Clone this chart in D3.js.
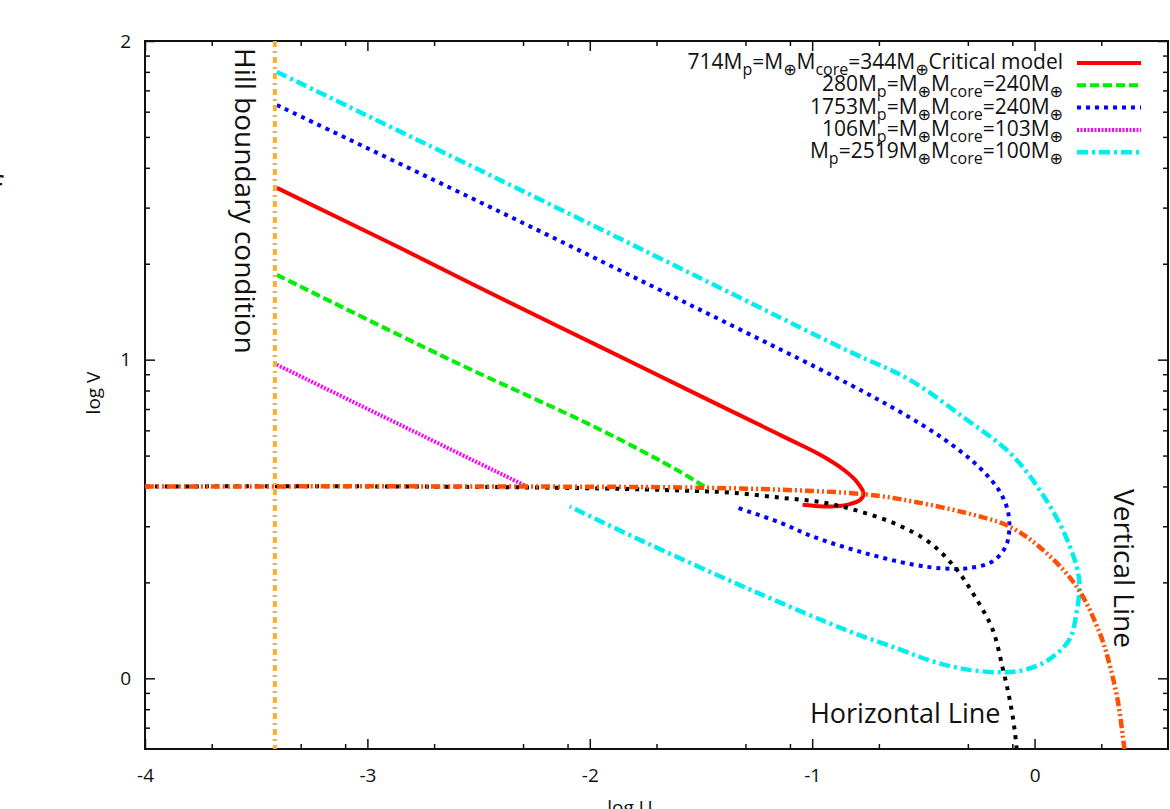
<!DOCTYPE html>
<html>
<head>
<meta charset="utf-8">
<script src="https://cdn.jsdelivr.net/npm/d3@7"></script>
<style>
  body { margin: 0; background: #fff; }
  svg { display: block; font-family: "Open Sans", "DejaVu Sans", sans-serif; }
</style>
</head>
<body>
<svg id="chart" width="1170" height="809"></svg>
<script>
// tick values (log U, log V)
var xMajor = [-4, -3, -2, -1, 0];
var xMinorOffsets = [0.3, 0.7, 0.9];
var yMajor = [0, 1, 2];
var yMinorFactors = [2, 3, 4, 5, 6, 7, 8, 9];

// Hill boundary position (log U)
var hillU = -3.416;

// curves, [log U, log V]
var critical = [[-3.407,1.539],[-2.854,1.351],[-2.404,1.194],[-1.955,1.041],[-1.506,0.887],[-1.101,0.749],
  [-0.966,0.702],[-0.854,0.652],[-0.796,0.614],[-0.769,0.580],[-0.782,0.561],[-0.840,0.545],[-0.921,0.539],[-1.043,0.545]];
var m280 = [[-3.407,1.266],[-2.629,1.0],[-1.955,0.781],[-1.596,0.649],[-1.479,0.599]];
var m1753 = [[-3.407,1.799],[-2.404,1.464],[-1.506,1.157],[-0.831,0.922],[-0.607,0.837],[-0.404,0.749],[-0.247,0.661],
  [-0.157,0.586],[-0.117,0.514],[-0.126,0.420],[-0.189,0.367],[-0.306,0.345],[-0.413,0.345],[-0.548,0.357],
  [-0.773,0.395],[-0.998,0.445],[-1.146,0.489],[-1.339,0.536]];
var m106 = [[-3.407,0.984],[-2.854,0.796],[-2.283,0.602]];
var m2519 = [[-3.407,1.903],[-2.404,1.564],[-1.506,1.257],[-0.831,1.025],[-0.562,0.937],[-0.306,0.812],[-0.112,0.708],
  [0.022,0.592],[0.126,0.467],[0.189,0.351],[0.202,0.288],[0.189,0.207],[0.157,0.122],[0.067,0.060],[-0.036,0.028],
  [-0.144,0.019],[-0.306,0.028],[-0.458,0.053],[-0.607,0.091],[-0.831,0.147],[-1.281,0.279],[-1.730,0.420],[-2.090,0.539]];
var horizontalLine = [[-4,0.602],[-2.854,0.602],[-1.955,0.596],[-1.582,0.589],[-1.371,0.583],[-1.146,0.567],[-0.953,0.552],
  [-0.787,0.524],[-0.620,0.483],[-0.472,0.426],[-0.351,0.342],[-0.261,0.248],[-0.189,0.154],[-0.144,0.034],
  [-0.112,-0.066],[-0.090,-0.160],[-0.076,-0.254]];
var verticalLine = [[-4,0.602],[-2.404,0.602],[-1.596,0.599],[-1.146,0.592],[-0.755,0.577],[-0.548,0.555],[-0.247,0.508],
  [-0.112,0.476],[0.036,0.404],[0.189,0.288],[0.292,0.144],[0.337,0.044],[0.373,-0.066],[0.396,-0.176],[0.409,-0.254]];

// legend labels: [text, subscript?]
var legendLabels = [
  [["714M",0],["p",1],["=M",0],["\u2295",1],["M",0],["core",1],["=344M",0],["\u2295",1],["Critical model",0]],
  [["280M",0],["p",1],["=M",0],["\u2295",1],["M",0],["core",1],["=240M",0],["\u2295",1]],
  [["1753M",0],["p",1],["=M",0],["\u2295",1],["M",0],["core",1],["=240M",0],["\u2295",1]],
  [["106M",0],["p",1],["=M",0],["\u2295",1],["M",0],["core",1],["=103M",0],["\u2295",1]],
  [["M",0],["p",1],["=2519M",0],["\u2295",1],["M",0],["core",1],["=100M",0],["\u2295",1]]
];

var models = [
  {data: critical, color: "#ff0000", dash: null, w: 4},
  {data: m280, color: "#00ee00", dash: "9,4", w: 4},
  {data: m1753, color: "#0000ff", dash: "4,5", w: 4},
  {data: m106, color: "#ff00ff", dash: "2,1.5", w: 4},
  {data: m2519, color: "#00eeee", dash: "11,4,3,4", w: 4.5}
];

var margin = {top: 41, right: 2, bottom: 60, left: 145},
    width = 1168 - margin.left,
    height = 749 - margin.top;

var svg = d3.select("#chart");
var g = svg.append("g")
  .attr("transform", "translate(" + margin.left + "," + margin.top + ")");

var x = d3.scaleLinear().domain([-4, 0.6]).range([0, width]);
var y = d3.scaleLinear().domain([Math.log10(0.6), 2]).range([height, 0]);

g.append("clipPath").attr("id", "plotclip")
  .append("rect").attr("width", width).attr("height", height);

// minor tick positions
var xMinor = [];
xMajor.forEach(function(n) {
  xMinorOffsets.forEach(function(o) { if (n + o < 0.6) xMinor.push(n + o); });
});
var yMinor = [];
[-1, 0, 1].forEach(function(n) {
  yMinorFactors.forEach(function(k) {
    var v = n + Math.log10(k);
    if (v > y.domain()[0] + 0.005 && v < 2) yMinor.push(v);
  });
});

var plainFmt = function(d) { return String(d); };

function styleAxis(sel) {
  sel.attr("font-family", null);
  sel.select(".domain").remove();
  sel.selectAll("line").attr("stroke", "#111").attr("stroke-width", 1.5);
  sel.selectAll("text").attr("fill", "#111").style("font-size", "19px");
}

// bottom / top
g.append("g").attr("transform", "translate(0," + height + ")")
  .call(d3.axisBottom(x).tickValues(xMajor).tickSize(-10).tickPadding(20).tickFormat(plainFmt))
  .call(styleAxis);
g.append("g").attr("transform", "translate(0," + height + ")")
  .call(d3.axisBottom(x).tickValues(xMinor).tickSize(-5).tickFormat(""))
  .call(styleAxis);
g.append("g")
  .call(d3.axisTop(x).tickValues(xMajor).tickSize(-10).tickFormat(""))
  .call(styleAxis);
g.append("g")
  .call(d3.axisTop(x).tickValues(xMinor).tickSize(-5).tickFormat(""))
  .call(styleAxis);
// left / right
g.append("g")
  .call(d3.axisLeft(y).tickValues(yMajor).tickSize(-10).tickPadding(14).tickFormat(plainFmt))
  .call(styleAxis);
g.append("g")
  .call(d3.axisLeft(y).tickValues(yMinor).tickSize(-5).tickFormat(""))
  .call(styleAxis);
g.append("g").attr("transform", "translate(" + width + ",0)")
  .call(d3.axisRight(y).tickValues(yMajor).tickSize(-10).tickFormat(""))
  .call(styleAxis);
g.append("g").attr("transform", "translate(" + width + ",0)")
  .call(d3.axisRight(y).tickValues(yMinor).tickSize(-5).tickFormat(""))
  .call(styleAxis);

// frame
g.append("rect").attr("width", width).attr("height", height)
  .attr("fill", "none").attr("stroke", "#111").attr("stroke-width", 2);

// axis titles
svg.append("text").attr("x", 630).attr("y", 814).attr("text-anchor", "middle")
  .attr("font-size", 19).attr("fill", "#111").text("log U");
svg.append("text").attr("transform", "translate(100,393) rotate(-90)").attr("text-anchor", "middle")
  .attr("font-size", 19).attr("fill", "#111").text("log V");
svg.append("text").attr("x", -9).attr("y", 202)
  .attr("font-size", 34).attr("fill", "#111").text("f");

var line = d3.line()
  .x(function(d) { return x(d[0]); })
  .y(function(d) { return y(d[1]); })
  .curve(d3.curveCatmullRom.alpha(0.5));

var plot = g.append("g").attr("clip-path", "url(#plotclip)");

models.forEach(function(m) {
  plot.append("path").datum(m.data)
    .attr("d", line).attr("fill", "none")
    .attr("stroke", m.color).attr("stroke-width", m.w)
    .attr("stroke-dasharray", m.dash);
});

plot.append("path").datum(horizontalLine)
  .attr("d", line).attr("fill", "none")
  .attr("stroke", "#000").attr("stroke-width", 4).attr("stroke-dasharray", "4,6");
plot.append("path").datum(verticalLine)
  .attr("d", line).attr("fill", "none")
  .attr("stroke", "#ff4f00").attr("stroke-width", 4.5).attr("stroke-dasharray", "9,3,2,3,2,3");

// Hill boundary
plot.append("line")
  .attr("x1", x(hillU)).attr("x2", x(hillU)).attr("y1", 0).attr("y2", height)
  .attr("stroke", "#f7b035").attr("stroke-width", 4).attr("stroke-dasharray", "6,4,2,4");

// annotations
g.append("text")
  .attr("transform", "translate(" + (x(hillU) - 40) + ",7) rotate(90)")
  .attr("font-size", 28).attr("fill", "#111").text("Hill boundary condition");
g.append("text")
  .attr("transform", "translate(" + (x(0.355)) + "," + (y(0.6) + 2) + ") rotate(90)")
  .attr("font-size", 28).attr("fill", "#111").text("Vertical Line");
g.append("text")
  .attr("x", x(-1.01)).attr("y", y(-0.14))
  .attr("font-size", 27).attr("fill", "#111").text("Horizontal Line");

// legend
var legend = g.append("g");
legendLabels.forEach(function(parts, i) {
  var ly = 22 + i * 22.3;
  var t = legend.append("text")
    .attr("x", 918).attr("y", ly + 6)
    .attr("text-anchor", "end").attr("font-size", 21).attr("fill", "#111");
  var shifted = false;
  parts.forEach(function(p) {
    var ts = t.append("tspan").text(p[0]);
    if (p[1] && !shifted) { ts.attr("font-size", 16).attr("dy", 6); shifted = true; }
    else if (p[1]) { ts.attr("font-size", 16); }
    else if (shifted) { ts.attr("dy", -6); shifted = false; }
  });
  var m = models[i];
  legend.append("line")
    .attr("x1", 932).attr("x2", 996).attr("y1", ly).attr("y2", ly)
    .attr("stroke", m.color).attr("stroke-width", m.w).attr("stroke-dasharray", m.dash);
});
</script>
</body>
</html>
